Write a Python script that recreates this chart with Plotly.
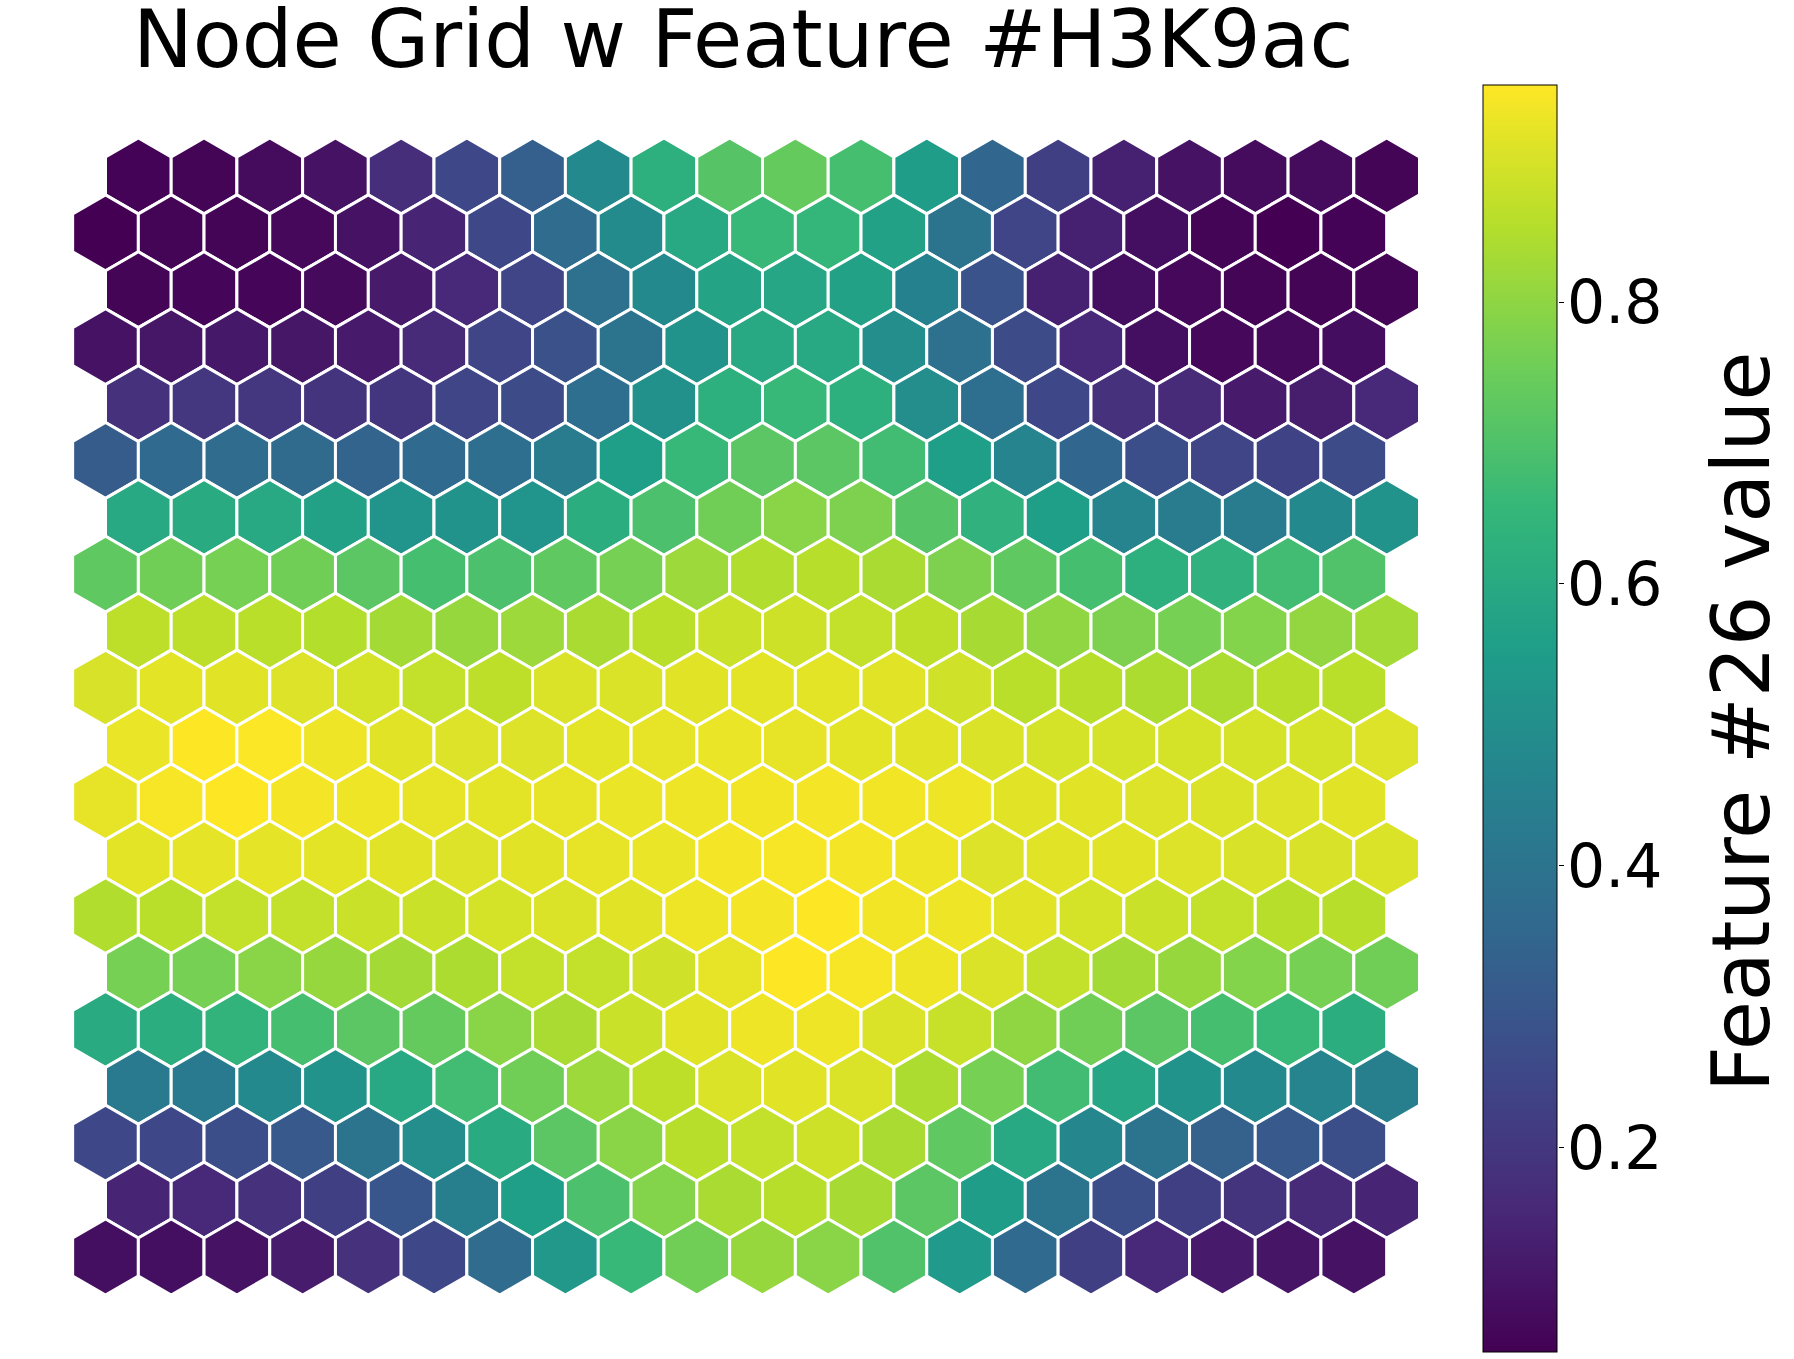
import numpy as np
import plotly.graph_objects as go

# Feature values per node, rows listed from top of the grid to bottom (20 x 20)
row_00 = [0.060, 0.064, 0.082, 0.100, 0.172, 0.253, 0.325, 0.478, 0.622, 0.712, 0.739, 0.685, 0.550, 0.352, 0.226, 0.136, 0.100, 0.082, 0.082, 0.064]
row_01 = [0.055, 0.064, 0.064, 0.073, 0.100, 0.145, 0.253, 0.370, 0.487, 0.595, 0.658, 0.649, 0.568, 0.397, 0.244, 0.136, 0.091, 0.064, 0.055, 0.060]
row_02 = [0.064, 0.069, 0.069, 0.078, 0.118, 0.154, 0.244, 0.388, 0.478, 0.577, 0.586, 0.568, 0.451, 0.289, 0.136, 0.091, 0.073, 0.064, 0.064, 0.064]
row_03 = [0.100, 0.109, 0.114, 0.109, 0.118, 0.163, 0.244, 0.280, 0.397, 0.514, 0.595, 0.595, 0.496, 0.388, 0.262, 0.154, 0.091, 0.073, 0.078, 0.087]
row_04 = [0.181, 0.199, 0.199, 0.190, 0.195, 0.244, 0.262, 0.379, 0.505, 0.622, 0.658, 0.622, 0.496, 0.379, 0.253, 0.181, 0.163, 0.118, 0.127, 0.154]
row_05 = [0.316, 0.361, 0.370, 0.366, 0.343, 0.361, 0.379, 0.433, 0.559, 0.658, 0.721, 0.721, 0.676, 0.559, 0.460, 0.352, 0.271, 0.244, 0.235, 0.262]
row_06 = [0.595, 0.604, 0.595, 0.568, 0.523, 0.514, 0.523, 0.613, 0.694, 0.757, 0.793, 0.775, 0.712, 0.631, 0.559, 0.460, 0.433, 0.433, 0.478, 0.514]
row_07 = [0.730, 0.757, 0.766, 0.757, 0.721, 0.685, 0.694, 0.730, 0.766, 0.820, 0.847, 0.856, 0.838, 0.775, 0.730, 0.685, 0.622, 0.631, 0.676, 0.703]
row_08 = [0.865, 0.865, 0.861, 0.852, 0.829, 0.811, 0.820, 0.838, 0.861, 0.883, 0.888, 0.874, 0.865, 0.834, 0.802, 0.775, 0.766, 0.784, 0.807, 0.829]
row_09 = [0.901, 0.919, 0.915, 0.910, 0.897, 0.874, 0.865, 0.906, 0.906, 0.915, 0.919, 0.919, 0.915, 0.892, 0.861, 0.856, 0.843, 0.843, 0.856, 0.861]
row_10 = [0.928, 0.955, 0.951, 0.933, 0.915, 0.910, 0.910, 0.919, 0.924, 0.928, 0.924, 0.919, 0.915, 0.906, 0.897, 0.897, 0.897, 0.897, 0.897, 0.910]
row_11 = [0.924, 0.946, 0.955, 0.942, 0.933, 0.924, 0.919, 0.924, 0.928, 0.933, 0.937, 0.942, 0.937, 0.933, 0.915, 0.915, 0.910, 0.906, 0.910, 0.915]
row_12 = [0.919, 0.921, 0.921, 0.919, 0.915, 0.910, 0.915, 0.924, 0.928, 0.942, 0.946, 0.942, 0.933, 0.910, 0.915, 0.915, 0.910, 0.901, 0.901, 0.906]
row_13 = [0.847, 0.861, 0.874, 0.874, 0.883, 0.883, 0.897, 0.906, 0.915, 0.933, 0.942, 0.955, 0.937, 0.933, 0.915, 0.897, 0.883, 0.874, 0.856, 0.856]
row_14 = [0.766, 0.766, 0.793, 0.811, 0.829, 0.843, 0.874, 0.874, 0.892, 0.924, 0.955, 0.946, 0.933, 0.906, 0.874, 0.829, 0.811, 0.784, 0.766, 0.757]
row_15 = [0.604, 0.613, 0.640, 0.685, 0.721, 0.739, 0.793, 0.838, 0.883, 0.915, 0.933, 0.933, 0.906, 0.879, 0.802, 0.757, 0.721, 0.685, 0.658, 0.613]
row_16 = [0.424, 0.424, 0.478, 0.514, 0.595, 0.676, 0.757, 0.820, 0.865, 0.906, 0.915, 0.906, 0.843, 0.766, 0.676, 0.586, 0.514, 0.478, 0.460, 0.442]
row_17 = [0.253, 0.253, 0.271, 0.307, 0.397, 0.496, 0.604, 0.721, 0.793, 0.856, 0.874, 0.888, 0.838, 0.730, 0.595, 0.469, 0.397, 0.334, 0.307, 0.271]
row_18 = [0.145, 0.154, 0.181, 0.226, 0.298, 0.442, 0.559, 0.694, 0.784, 0.838, 0.856, 0.834, 0.721, 0.550, 0.397, 0.271, 0.226, 0.190, 0.163, 0.145]
row_19 = [0.091, 0.091, 0.100, 0.123, 0.181, 0.253, 0.370, 0.532, 0.658, 0.757, 0.811, 0.793, 0.703, 0.541, 0.361, 0.226, 0.154, 0.118, 0.105, 0.100]

rows_top_to_bottom = [row_00, row_01, row_02, row_03, row_04, row_05, row_06, row_07, row_08, row_09,
                      row_10, row_11, row_12, row_13, row_14, row_15, row_16, row_17, row_18, row_19]

title_text = "Node Grid w Feature #H3K9ac"
cbar_title = "Feature #26 value"
tick_vals = [0.2, 0.4, 0.6, 0.8]
tick_text = ["0.2", "0.4", "0.6", "0.8"]
c_min, c_max = 0.055, 0.954

W, H = 1794, 1359
n_rows = len(rows_top_to_bottom)

xs, ys, vals = [], [], []
for k, row in enumerate(rows_top_to_bottom):
    r = n_rows - 1 - k  # row index from bottom
    for c, v in enumerate(row):
        xs.append(c + 0.5 * (r % 2))
        ys.append(r * np.sqrt(3) / 2)
        vals.append(v)

px_per_unit = 65.7
x0_px = 105.5          # pixel x of column 0 (unshifted rows)
y0_px = 1257.0         # pixel y (from top) of bottom row
x_left = -x0_px / px_per_unit
x_right = x_left + W / px_per_unit
y_bottom = -(H - y0_px) / px_per_unit
y_top = y_bottom + H / px_per_unit

hex_size = 2 * px_per_unit / np.sqrt(3)

# colorbar geometry (pixels)
cb_left, cb_thick = 1483, 74
cb_top, cb_bottom = 85, 1352

font_family = "DejaVu Sans"

fig = go.Figure()

# helper trace so the colorbar tick axis (y2) is drawn (added first so it sits underneath)
fig.add_trace(go.Scatter(x=[None], y=[None], xaxis="x", yaxis="y2",
                         mode="markers", showlegend=False, hoverinfo="skip"))

fig.add_trace(go.Scatter(
    x=xs, y=ys, mode="markers",
    marker=dict(
        symbol="hexagon",
        size=hex_size,
        color=vals,
        colorscale="Viridis",
        cmin=c_min, cmax=c_max,
        line=dict(color="white", width=3),
        colorbar=dict(
            x=cb_left / W, xanchor="left", xpad=0,
            y=1 - cb_top / H, yanchor="top", ypad=0,
            len=cb_bottom - cb_top, lenmode="pixels",
            thickness=cb_thick, thicknessmode="pixels",
            outlinewidth=1, outlinecolor="black",
            ticks="", showticklabels=False,
            bgcolor="rgba(0,0,0,0)", borderwidth=0,
        ),
    ),
    hoverinfo="skip",
    showlegend=False,
    cliponaxis=False,
))

fig.update_layout(
    width=W, height=H,
    margin=dict(l=0, r=0, t=0, b=0, autoexpand=False),
    paper_bgcolor="white", plot_bgcolor="rgba(0,0,0,0)",
    xaxis=dict(range=[x_left, x_right], visible=False, showgrid=False, zeroline=False, domain=[0, 1]),
    yaxis=dict(range=[y_bottom, y_top], visible=False, showgrid=False, zeroline=False, domain=[0, 1]),
    yaxis2=dict(
        domain=[1 - cb_bottom / H, 1 - cb_top / H],
        range=[c_min, c_max],
        anchor="free", position=(cb_left + cb_thick + 1) / W, side="right",
        showgrid=False, zeroline=False, showline=False,
        ticks="outside", ticklen=5, tickwidth=1, tickcolor="black",
        tickvals=tick_vals, ticktext=tick_text,
        tickfont=dict(family=font_family, size=60, color="black"),
        ticklabelstandoff=-9,
        fixedrange=True,
    ),
    annotations=[
        dict(text=title_text, x=743 / W, y=1 - 39 / H, xref="paper", yref="paper",
             xanchor="center", yanchor="middle", showarrow=False,
             font=dict(family=font_family, size=80, color="black")),
        dict(text=cbar_title, x=1741 / W, y=1 - 722 / H, xref="paper", yref="paper",
             xanchor="center", yanchor="middle", showarrow=False, textangle=-90,
             font=dict(family=font_family, size=80, color="black")),
    ],
)

fig.write_html("out.html")
